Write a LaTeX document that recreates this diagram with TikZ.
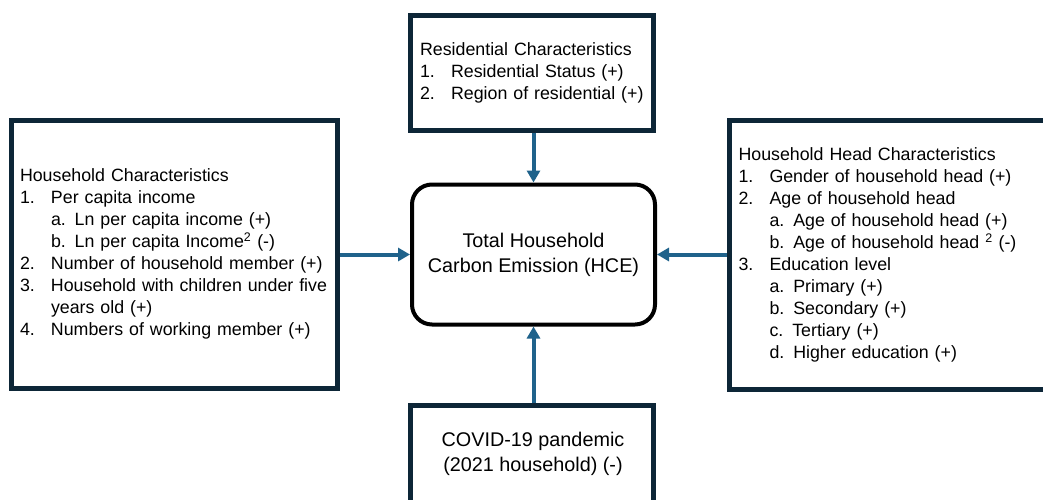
\documentclass[tikz,border=0pt]{standalone}
\usepackage{fontspec}
\setmainfont{Liberation Sans}
\usetikzlibrary{positioning, arrows.meta}

\definecolor{boxnavy}{HTML}{0D2637}
\definecolor{arrowblue}{HTML}{1F628B}

\newcommand{\numitem}[2]{\makebox[31pt][l]{#1}#2}
\newcommand{\subline}[1]{\hspace*{31pt}#1}

\tikzset{
  factorbox/.style={draw=boxnavy, line width=5pt, rectangle, align=left,
    font=\fontsize{17.8}{22}\selectfont, inner ysep=0pt},
  hcebox/.style={draw=black, line width=4pt, rounded corners=20pt, align=center,
    minimum width=243pt, minimum height=140pt, font=\fontsize{19.8}{25}\selectfont},
  flow/.style={draw=arrowblue, line width=4pt, -{Triangle[length=12pt,width=13pt]}}
}

\begin{document}
\begin{tikzpicture}[x=1pt, y=-1pt]
        \useasboundingbox[fill=white] (0,0) rectangle (1043,499);
        \clip (0,0) rectangle (1043,499);
        % central box
        \node[hcebox] (hce) at (533.5,254.5) {Total Household\\Carbon Emission (HCE)};
        % surrounding factor boxes
        \node[factorbox, minimum width=326pt, minimum height=267.5pt, text width=309pt, inner xsep=8.5pt] (hhbox) at (174.5,254.3)
          {Household Characteristics\\
           \numitem{1.}{Per capita income}\\
           \subline{a. Ln per capita income (+)}\\
           \subline{b. Ln per capita Income\textsuperscript{2} (-)}\\
           \numitem{2.}{Number of household member (+)}\\
           \numitem{3.}{Household with children under five}\\
           \subline{years old (+)}\\
           \numitem{4.}{Numbers of working member (+)}};
        \node[factorbox, minimum width=320pt, minimum height=268.5pt, text width=302pt, inner xsep=8pt] (headbox) at (889.5,255)
          {Household Head Characteristics\\
           \numitem{1.}{Gender of household head (+)}\\
           \numitem{2.}{Age of household head}\\
           \subline{a. Age of household head (+)}\\
           \subline{b. Age of household head \textsuperscript{2} (-)}\\
           \numitem{3.}{Education level}\\
           \subline{a. Primary (+)}\\
           \subline{b. Secondary (+)}\\
           \subline{c. Tertiary (+)}\\
           \subline{d. Higher education (+)}};
        \node[factorbox, minimum width=242.5pt, minimum height=114.5pt, text width=223.5pt, inner xsep=9.5pt] (resbox) at (531.8,72.8)
          {Residential Characteristics\\
           \numitem{1.}{Residential Status (+)}\\
           \numitem{2.}{Region of residential (+)}};
        \node[factorbox, minimum width=242.5pt, minimum height=130pt] (covidbox) at (531.8,470.5) {};
        \node[align=center, font=\fontsize{19.8}{25}\selectfont] (covidtxt) at (533,453.5) {COVID-19 pandemic\\(2021 household) (-)};
        % influences
        \draw[flow] (hhbox.east |- hce.west) -- (hce.west);
        \draw[flow] (headbox.west |- hce.east) -- (hce.east);
        \draw[flow] (resbox.south -| hce.north) -- (hce.north);
        \draw[flow] (covidbox.north -| hce.south) -- (hce.south);
\end{tikzpicture}
\end{document}
